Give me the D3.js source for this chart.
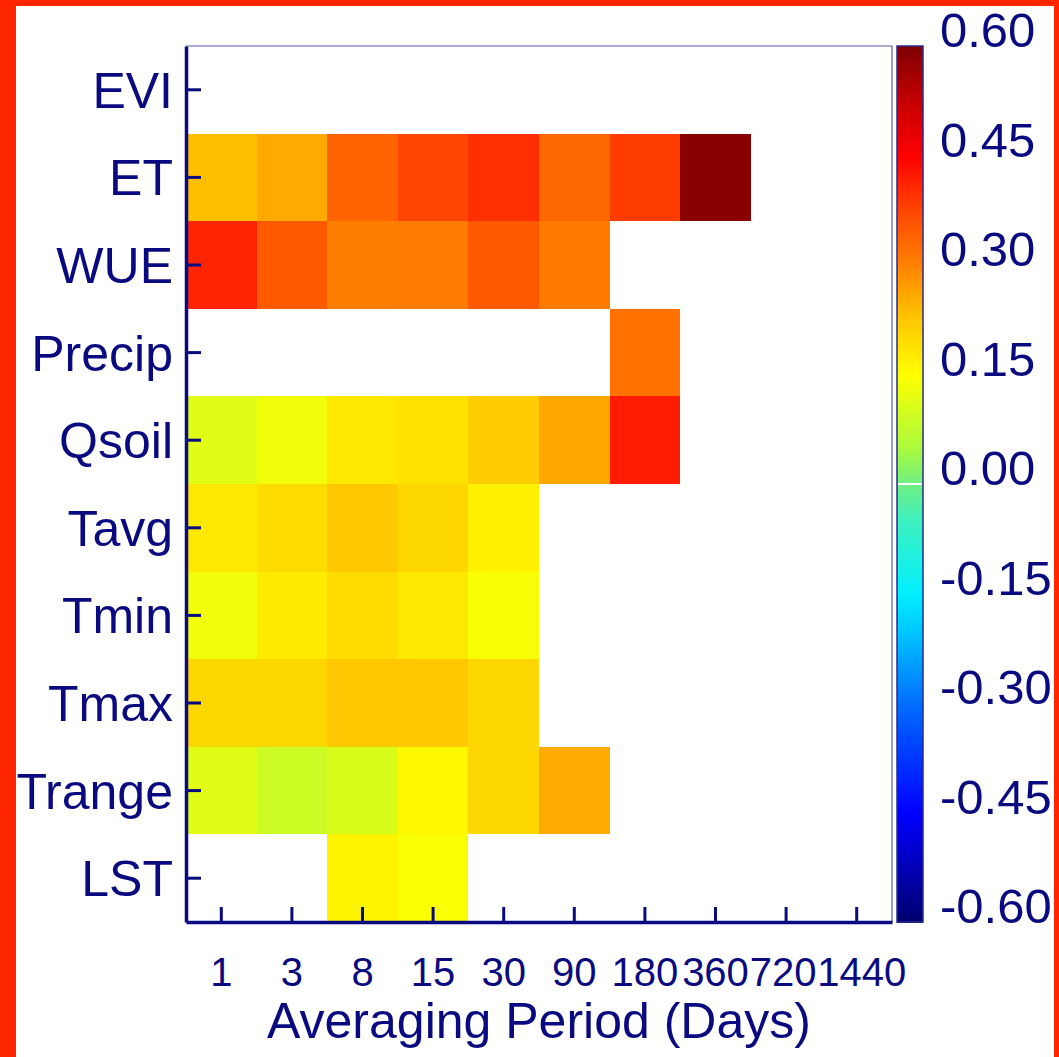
<!DOCTYPE html>
<html>
<head>
<meta charset="utf-8">
<script src="https://cdn.jsdelivr.net/npm/d3@7"></script>
<style>
  html, body { margin: 0; padding: 0; background: #fff; }
  svg { display: block; }
  text { font-family: "Liberation Sans", Arial, Helvetica, sans-serif; fill: #0a0a80; }
</style>
</head>
<body>
<svg id="chart" width="1059" height="1057"></svg>
<script>
// Correlation by variable and averaging period (null = not significant)
const variables = ["EVI", "ET", "WUE", "Precip", "Qsoil", "Tavg", "Tmin", "Tmax", "Trange", "LST"];
const periods = ["1", "3", "8", "15", "30", "90", "180", "360", "720", "1440"];

const evi    = [null, null, null, null, null, null, null, null, null, null];
const et     = [0.236, 0.257, 0.338, 0.376, 0.400, 0.333, 0.385, 0.590, null, null];
const wue    = [0.410, 0.350, 0.305, 0.307, 0.350, 0.310, null, null, null, null];
const precip = [null, null, null, null, null, null, 0.320, null, null, null];
const qsoil  = [0.115, 0.135, 0.181, 0.190, 0.218, 0.260, 0.420, null, null, null];
const tavg   = [0.182, 0.198, 0.225, 0.205, 0.168, null, null, null, null, null];
const tmin   = [0.135, 0.178, 0.198, 0.182, 0.142, null, null, null, null, null];
const tmax   = [0.205, 0.205, 0.225, 0.225, 0.205, null, null, null, null, null];
const trange = [0.115, 0.090, 0.105, 0.160, 0.205, 0.257, null, null, null, null];
const lst    = [null, null, 0.165, 0.145, null, null, null, null, null, null];

const colorTicks = [-0.60, -0.45, -0.30, -0.15, 0.00, 0.15, 0.30, 0.45, 0.60];

const rows = [evi, et, wue, precip, qsoil, tavg, tmin, tmax, trange, lst];
const cells = [];
rows.forEach((vals, i) => vals.forEach((v, j) => {
  if (v !== null) cells.push({ variable: variables[i], period: periods[j], value: v });
}));

const svg = d3.select("#chart");
const W = 1059, H = 1057;

// page frame
svg.append("rect").attr("width", W).attr("height", H).attr("fill", "#ff2600");
svg.append("rect").attr("x", 16).attr("y", 6).attr("width", 1038).attr("height", H - 6).attr("fill", "#ffffff");

const plot = { left: 186, top: 46, right: 892, bottom: 922 };
const navy = "#0a0a80";

const x = d3.scaleBand().domain(periods).range([plot.left, plot.right]).padding(0);
const y = d3.scaleBand().domain(variables).range([plot.top, plot.bottom]).padding(0);

// jet-like diverging palette, -0.6 .. 0.6
const color = d3.scaleLinear()
  .domain([-0.60, -0.50, -0.45, -0.30, -0.20, -0.15, -0.05, 0.00, 0.05, 0.15, 0.225, 0.30, 0.375, 0.45, 0.52, 0.60])
  .range(["#00006e", "#0000d0", "#0000ff", "#006eff", "#00c8ff", "#00f0ff", "#3cf0be", "#6ef082",
          "#aafa3c", "#ffff00", "#ffc800", "#ff8200", "#ff4600", "#ff0000", "#c80000", "#800000"])
  .clamp(true);

// heatmap cells
svg.append("g")
  .attr("shape-rendering", "crispEdges")
  .selectAll("rect")
  .data(cells)
  .join("rect")
  .attr("x", d => x(d.period))
  .attr("y", d => y(d.variable))
  .attr("width", x.bandwidth())
  .attr("height", y.bandwidth())
  .attr("fill", d => color(d.value));

// thin top / right frame of the plot
svg.append("path")
  .attr("d", `M${plot.left},${plot.top}H${plot.right}V${plot.bottom}`)
  .attr("fill", "none").attr("stroke", "#5858a8").attr("stroke-width", 1.2);

// y axis
const yAxis = svg.append("g")
  .attr("transform", `translate(${plot.left},0)`)
  .call(d3.axisLeft(y).tickSize(-15).tickSizeOuter(0).tickPadding(13));
yAxis.selectAll("text").style("font-size", "50px").attr("fill", navy).attr("dy", "0.36em");

// x axis; the long period labels sit tightly side by side
const labelNudge = { "720": -3, "1440": 5 };
const xAxis = svg.append("g")
  .attr("transform", `translate(0,${plot.bottom})`)
  .call(d3.axisBottom(x).tickSize(-15).tickSizeOuter(0).tickPadding(36));
xAxis.selectAll("text")
  .style("font-size", "40px").attr("fill", navy)
  .attr("dx", d => labelNudge[d] || 0);

[yAxis, xAxis].forEach(g => {
  g.select(".domain").attr("stroke", navy).attr("stroke-width", 3.5);
  g.selectAll(".tick line").attr("stroke", navy).attr("stroke-width", 3);
});

// x axis title
svg.append("text")
  .attr("x", (plot.left + plot.right) / 2)
  .attr("y", 1038)
  .attr("text-anchor", "middle")
  .style("font-size", "50px")
  .attr("fill", navy)
  .text("Averaging Period (Days)");

// colour bar
const cb = { x: 897, w: 26 };
const cbScale = d3.scaleLinear().domain([-0.60, 0.60]).range([plot.bottom, plot.top]);
const steps = d3.range(-0.60, 0.60, 1.2 / 240);
svg.append("g")
  .attr("shape-rendering", "crispEdges")
  .selectAll("rect")
  .data(steps)
  .join("rect")
  .attr("x", cb.x)
  .attr("y", d => cbScale(d + 1.2 / 240))
  .attr("width", cb.w)
  .attr("height", Math.abs(cbScale(0) - cbScale(1.2 / 240)) + 0.6)
  .attr("fill", d => color(d + 0.6 / 240));

// white marker at zero
svg.append("rect")
  .attr("x", cb.x + 1).attr("y", cbScale(0) - 1)
  .attr("width", cb.w - 2).attr("height", 2)
  .attr("fill", "#ffffff");

svg.append("rect")
  .attr("x", cb.x).attr("y", plot.top)
  .attr("width", cb.w).attr("height", plot.bottom - plot.top)
  .attr("fill", "none").attr("stroke", "#2a2a90").attr("stroke-width", 1.5);

const cbAxis = svg.append("g")
  .attr("transform", `translate(${cb.x + cb.w},0)`)
  .call(d3.axisRight(cbScale).tickValues(colorTicks).tickSize(0).tickPadding(17)
    .tickFormat(d => d.toFixed(2)));
cbAxis.select(".domain").remove();
cbAxis.selectAll("text").style("font-size", "49px").attr("fill", navy).attr("dy", "0.02em");
</script>
</body>
</html>
